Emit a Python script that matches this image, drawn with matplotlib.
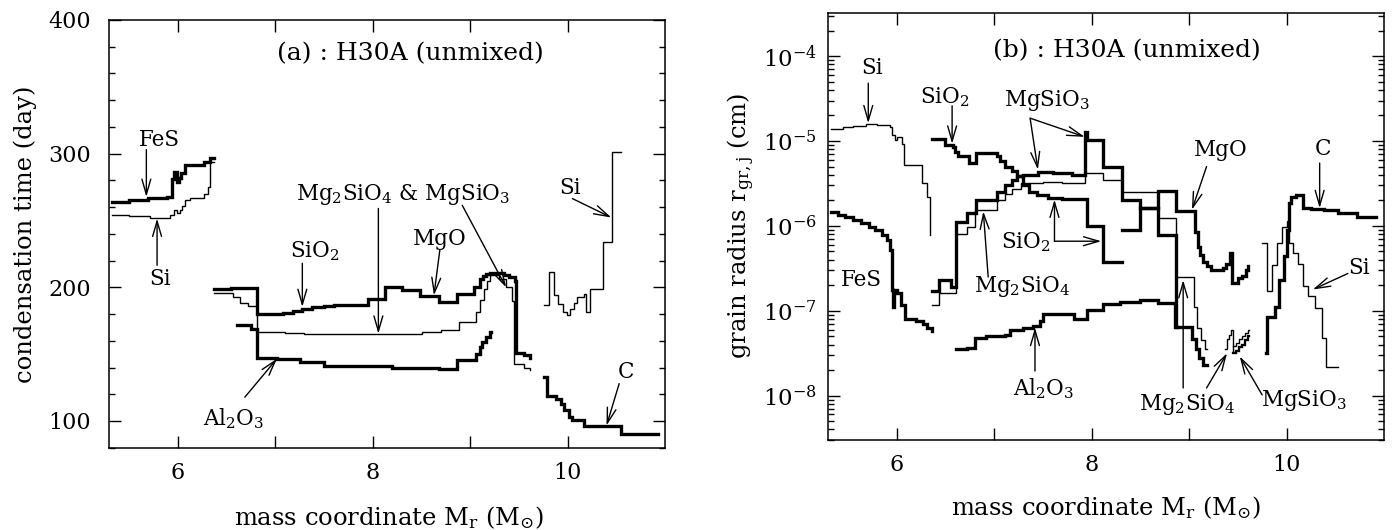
import matplotlib
matplotlib.use("Agg")
import matplotlib.pyplot as plt
from matplotlib.ticker import MultipleLocator, FixedLocator, LogLocator, NullFormatter

plt.rcParams['font.family'] = ['DejaVu Serif']
plt.rcParams['mathtext.fontset'] = 'dejavuserif'

# ---------------- panel (a): condensation time (day) ----------------
fes_a_x = [5.33, 5.50, 5.70, 5.89, 5.94, 5.96, 5.99, 6.02, 6.04, 6.08, 6.27, 6.33, 6.37]
fes_a_y = [264, 265, 266.5, 267.6, 281.4, 286.4, 278.9, 282, 285.2, 291.4, 293.8, 297, 297]

si_a_x = [5.33, 5.50, 5.72, 5.92, 5.96, 5.99, 6.03, 6.05, 6.08, 6.13, 6.27, 6.31, 6.33, 6.37]
si_a_y = [254, 253, 252.2, 254, 257.7, 255.6, 257.7, 261, 265, 267, 270, 275, 294, 294]

sio2_mgo_a_x = [6.37, 6.55, 6.81, 7.08, 7.18, 7.28, 7.38, 7.50, 7.60, 7.95, 8.13, 8.30, 8.49, 8.68,
                8.87, 9.04, 9.10, 9.13, 9.16, 9.20, 9.25, 9.30, 9.35, 9.40, 9.46, 9.47, 9.55, 9.62]
sio2_mgo_a_y = [198.5, 199.5, 179.8, 180.5, 182.3, 184, 185, 186, 186.5, 191.5, 200.2, 197.8, 193.5, 189,
                194.7, 200.2, 206.5, 208.5, 210, 210.7, 210.7, 210.5, 209.5, 207.5, 205, 150.8, 149, 147.3]

silicate_a_x = [6.37, 6.57, 6.64, 6.72, 6.81, 7.10, 7.30, 8.51, 8.70, 8.89, 9.06, 9.10, 9.14, 9.17,
                9.21, 9.30, 9.37, 9.43, 9.45, 9.55, 9.62]
silicate_a_y = [196, 193, 188, 186, 166.5, 165.5, 164.8, 166.5, 167.8, 174, 181.5, 190.3, 199, 205,
                209, 206, 200, 190, 142.8, 140, 137.8]

al2o3_a_x = [6.61, 6.75, 6.81, 7.02, 7.26, 7.50, 7.94, 8.20, 8.68, 8.87, 9.06, 9.10, 9.12, 9.16, 9.20, 9.22]
al2o3_a_y = [171.5, 169, 147, 146.5, 144, 140.8, 141.5, 139.6, 139, 145.3, 150.4, 155, 159, 162.8, 166.5, 166.5]

si2_a_x = [9.76, 9.81, 9.86, 9.90, 9.95, 9.99, 10.03, 10.07, 10.10, 10.17, 10.19, 10.23, 10.36, 10.46, 10.55]
si2_a_y = [186.5, 211.5, 194, 187.6, 181.5, 179, 184, 188, 192.7, 195.2, 181.5, 199, 234, 301.3, 301.3]

c_a_x = [9.76, 9.79, 9.88, 9.93, 9.96, 10.02, 10.05, 10.17, 10.55, 10.93]
c_a_y = [132.8, 119, 116.6, 113, 108, 103, 100.4, 96, 90, 90]

# ---------------- panel (b): grain radius (cm) ----------------
si_b_x = [5.33, 5.45, 5.55, 5.69, 5.80, 5.93, 5.95, 5.98, 6.00, 6.06, 6.08, 6.26, 6.31, 6.34, 6.345]
si_b_y = [1.38e-5, 1.45e-5, 1.51e-5, 1.58e-5, 1.55e-5, 1.45e-5, 1.17e-5, 1.02e-5, 1.12e-5, 9.3e-6,
          5.2e-6, 3.2e-6, 2.2e-6, 7.9e-7, 7.9e-7]

fes_b_x = [5.33, 5.40, 5.47, 5.55, 5.64, 5.72, 5.78, 5.85, 5.90, 5.93, 5.95, 5.96, 5.97, 6.00,
           6.05, 6.09, 6.20, 6.27, 6.31, 6.36]
fes_b_y = [1.45e-6, 1.35e-6, 1.29e-6, 1.17e-6, 1.07e-6, 9.8e-7, 8.9e-7, 7.9e-7, 6.9e-7, 5.2e-7,
           1.78e-7, 1.12e-7, 1.78e-7, 1.62e-7, 1.17e-7, 8.1e-8, 7.6e-8, 6.9e-8, 6.3e-8, 5.75e-8]

sio2_b_x = [6.36, 6.50, 6.58, 6.60, 6.63, 6.74, 6.82, 7.03, 7.06, 7.11, 7.18, 7.24, 7.30, 7.36,
            7.44, 7.55, 7.70, 7.95, 8.12, 8.31]
sio2_b_y = [1.05e-5, 9.1e-6, 8.5e-6, 7.4e-6, 6.6e-6, 5.5e-6, 7.2e-6, 6.6e-6, 5.75e-6, 5.0e-6,
            4.4e-6, 3.9e-6, 3.0e-6, 2.5e-6, 2.3e-6, 2.15e-6, 2.1e-6, 1.0e-6, 3.8e-7, 3.8e-7]

mgsio3_b_x = [6.36, 6.44, 6.56, 6.61, 6.72, 6.82, 7.03, 7.11, 7.18, 7.24, 7.30, 7.45, 7.60, 7.80,
              7.93, 7.95, 8.12, 8.31, 8.50, 8.68, 8.87, 8.875]
mgsio3_b_y = [1.7e-7, 2.3e-7, 1.9e-7, 1.12e-6, 1.41e-6, 2.04e-6, 2.5e-6, 3.0e-6, 3.5e-6, 3.9e-6,
              4.0e-6, 4.3e-6, 4.2e-6, 4.0e-6, 1.29e-5, 1.02e-5, 5.0e-6, 2.04e-6, 1.62e-6, 7.8e-7,
              6.5e-8, 6.5e-8]

mg2sio4_b_x = [6.36, 6.44, 6.61, 6.72, 6.80, 7.03, 7.11, 7.18, 7.28, 7.50, 7.70, 7.93, 8.12, 8.31,
               8.68, 8.87, 9.05, 9.08, 9.12, 9.16, 9.18]
mg2sio4_b_y = [1.17e-7, 1.62e-7, 8.1e-7, 9.8e-7, 1.55e-6, 2.04e-6, 2.4e-6, 2.75e-6, 3.16e-6,
               3.3e-6, 3.16e-6, 4.2e-6, 3.5e-6, 2.5e-6, 1.23e-6, 2.5e-7, 1.12e-7, 6.3e-8, 4.5e-8,
               3.5e-8, 3.5e-8]

al2o3_b_x = [6.61, 6.72, 6.80, 6.92, 7.11, 7.16, 7.30, 7.40, 7.47, 7.50, 7.75, 7.82, 7.95, 8.12,
             8.29, 8.50, 8.68, 8.86, 9.03, 9.07, 9.10, 9.14, 9.18]
al2o3_b_y = [3.5e-8, 3.6e-8, 4.8e-8, 5.0e-8, 5.25e-8, 5.9e-8, 6.2e-8, 6.6e-8, 7.6e-8, 9.1e-8,
             9.1e-8, 8.1e-8, 1.02e-7, 1.2e-7, 1.26e-7, 1.35e-7, 1.23e-7, 6.5e-8, 4.6e-8, 3.5e-8,
             2.8e-8, 2.3e-8, 2.3e-8]

mgo_b_x = [8.31, 8.50, 8.68, 8.87, 9.06, 9.09, 9.11, 9.14, 9.18, 9.23, 9.35, 9.38, 9.42, 9.44,
           9.50, 9.54, 9.58, 9.61]
mgo_b_y = [8.9e-7, 1.62e-6, 2.6e-6, 1.51e-6, 8.5e-7, 5.6e-7, 4.6e-7, 3.8e-7, 3.4e-7, 3.0e-7,
           3.16e-7, 3.6e-7, 4.8e-7, 2.15e-7, 2.4e-7, 2.6e-7, 3.0e-7, 3.4e-7]

mg2sio4_b2_x = [9.37, 9.39, 9.41, 9.43, 9.45]
mg2sio4_b2_y = [3.5e-8, 4.7e-8, 5.2e-8, 6.0e-8, 3.4e-8]

mgsio3_b2_x = [9.45, 9.48, 9.51, 9.54, 9.57, 9.60, 9.62]
mgsio3_b2_y = [3.2e-8, 3.4e-8, 3.7e-8, 4.0e-8, 4.5e-8, 5.0e-8, 5.0e-8]
mgsio3_b3_y = [3.8e-8, 4.2e-8, 4.7e-8, 5.0e-8, 5.5e-8, 6.0e-8, 6.0e-8]

c_b_x = [9.79, 9.80, 9.88, 9.92, 9.97, 10.01, 10.03, 10.05, 10.10, 10.17, 10.25, 10.38, 10.53,
         10.72, 10.92]
c_b_y = [3.16e-8, 8.5e-8, 1.12e-7, 2.3e-7, 4.4e-7, 8.9e-7, 1.86e-6, 2.2e-6, 2.3e-6, 1.62e-6,
         1.58e-6, 1.55e-6, 1.41e-6, 1.26e-6, 1.26e-6]

si2_b_x = [9.75, 9.80, 9.85, 9.90, 9.95, 10.00, 10.03, 10.07, 10.12, 10.17, 10.22, 10.29, 10.36,
           10.41, 10.53]
si2_b_y = [6.3e-7, 1.7e-7, 3.5e-7, 6.3e-7, 9.8e-7, 1.15e-6, 6.3e-7, 4.8e-7, 3.6e-7, 1.95e-7,
           1.48e-7, 1.07e-7, 4.8e-8, 2.2e-8, 2.2e-8]

LW_THICK = 2.4
LW_THIN = 1.0
FS = 15.5
FS_TITLE = 18
FS_AXLABEL = 17.5
FS_TICK = 16

fig = plt.figure(figsize=(13.93, 5.30), dpi=100)
W, H = 1393.0, 530.0
ax1 = fig.add_axes([109.3 / W, 1 - 447.7 / H, (665 - 109.3) / W, (447.7 - 20) / H])
ax2 = fig.add_axes([828.3 / W, 1 - 440 / H, (1384 - 828.3) / W, (440 - 13.3) / H])


def step(ax, x, y, lw):
    ax.plot(x, y, drawstyle='steps-post', color='k', lw=lw, solid_joinstyle='miter')


def arrow(ax, tail, tip):
    ax.annotate('', xy=tip, xytext=tail,
                arrowprops=dict(arrowstyle='->,head_length=1.1,head_width=0.32',
                                lw=1.0, color='k', shrinkA=0, shrinkB=0))


def label(ax, x, y, s):
    ax.text(x, y, s, ha='center', va='center', fontsize=FS)


# ----- panel (a)
step(ax1, fes_a_x, fes_a_y, LW_THICK)
step(ax1, si_a_x, si_a_y, LW_THIN)
step(ax1, sio2_mgo_a_x, sio2_mgo_a_y, LW_THICK)
step(ax1, silicate_a_x, silicate_a_y, LW_THIN)
step(ax1, al2o3_a_x, al2o3_a_y, LW_THICK)
step(ax1, si2_a_x, si2_a_y, LW_THIN)
step(ax1, c_a_x, c_a_y, LW_THICK)

ax1.set_xlim(5.3, 11.0)
ax1.set_ylim(80, 400)
ax1.yaxis.set_major_locator(FixedLocator([100, 200, 300, 400]))
ax1.yaxis.set_minor_locator(MultipleLocator(20))
ax1.xaxis.set_major_locator(FixedLocator([6, 7, 8, 9, 10]))
ax1.set_xticklabels(['6', '', '8', '', '10'])

ax1.text(8.39, 375, '(a) : H30A (unmixed)', ha='center', va='center', fontsize=FS_TITLE)
label(ax1, 5.81, 310, 'FeS')
arrow(ax1, (5.68, 303), (5.68, 267.6))
label(ax1, 5.82, 206.5, 'Si')
arrow(ax1, (5.79, 216.5), (5.79, 251.4))
label(ax1, 7.41, 227, 'SiO$_2$')
arrow(ax1, (7.28, 218), (7.28, 185.3))
label(ax1, 8.31, 269.5, 'Mg$_2$SiO$_4$ & MgSiO$_3$')
arrow(ax1, (8.06, 259), (8.06, 165.3))
arrow(ax1, (8.92, 261.4), (9.37, 200))
label(ax1, 8.69, 236.5, 'MgO')
arrow(ax1, (8.69, 227.7), (8.63, 194))
label(ax1, 10.03, 274, 'Si')
arrow(ax1, (10.05, 266.4), (10.45, 252.2))
label(ax1, 10.6, 136.6, 'C')
arrow(ax1, (10.53, 127.9), (10.4, 96.6))
label(ax1, 6.57, 102, 'Al$_2$O$_3$')
arrow(ax1, (6.69, 117.8), (7.02, 146.6))

# ----- panel (b)
step(ax2, si_b_x, si_b_y, LW_THIN)
step(ax2, fes_b_x, fes_b_y, LW_THICK)
step(ax2, sio2_b_x, sio2_b_y, LW_THICK)
step(ax2, mgsio3_b_x, mgsio3_b_y, LW_THICK)
step(ax2, mg2sio4_b_x, mg2sio4_b_y, LW_THIN)
step(ax2, al2o3_b_x, al2o3_b_y, LW_THICK)
step(ax2, mgo_b_x, mgo_b_y, LW_THICK)
step(ax2, mg2sio4_b2_x, mg2sio4_b2_y, LW_THIN)
step(ax2, mgsio3_b2_x, mgsio3_b2_y, LW_THICK * 0.7)
step(ax2, mgsio3_b2_x, mgsio3_b3_y, LW_THIN)
step(ax2, c_b_x, c_b_y, LW_THICK)
step(ax2, si2_b_x, si2_b_y, LW_THIN)

ax2.set_yscale('log')
ax2.set_xlim(5.3, 11.0)
ax2.set_ylim(3.0e-9, 3.2e-4)
ax2.yaxis.set_major_locator(LogLocator(base=10, numticks=20))
ax2.yaxis.set_minor_locator(LogLocator(base=10, subs=range(2, 10), numticks=20))
ax2.yaxis.set_minor_formatter(NullFormatter())
ax2.xaxis.set_major_locator(FixedLocator([6, 7, 8, 9, 10]))
ax2.set_xticklabels(['6', '', '8', '', '10'])

ax2.text(8.36, 1.17e-4, '(b) : H30A (unmixed)', ha='center', va='center', fontsize=FS_TITLE)
label(ax2, 5.75, 7.2e-5, 'Si')
arrow(ax2, (5.71, 4.8e-5), (5.71, 1.62e-5))
label(ax2, 6.49, 3.3e-5, 'SiO$_2$')
arrow(ax2, (6.57, 2.6e-5), (6.57, 9.3e-6))
label(ax2, 7.54, 3.0e-5, 'MgSiO$_3$')
arrow(ax2, (7.37, 1.86e-5), (7.45, 4.6e-6))
arrow(ax2, (7.37, 1.86e-5), (7.93, 1.12e-5))
label(ax2, 9.33, 7.8e-6, 'MgO')
arrow(ax2, (9.18, 5.0e-6), (9.03, 1.55e-6))
label(ax2, 10.37, 8.1e-6, 'C')
arrow(ax2, (10.34, 5.5e-6), (10.34, 1.62e-6))
label(ax2, 10.74, 3.16e-7, 'Si')
arrow(ax2, (10.63, 2.75e-7), (10.27, 1.78e-7))
label(ax2, 5.64, 2.3e-7, 'FeS')
label(ax2, 7.33, 6.4e-7, 'SiO$_2$')
arrow(ax2, (7.62, 6.6e-7), (7.62, 2.04e-6))
arrow(ax2, (7.62, 6.6e-7), (8.1, 6.6e-7))
label(ax2, 7.29, 1.95e-7, 'Mg$_2$SiO$_4$')
arrow(ax2, (6.94, 2.5e-7), (6.89, 1.48e-6))
label(ax2, 7.51, 1.2e-8, 'Al$_2$O$_3$')
arrow(ax2, (7.42, 1.95e-8), (7.42, 6.3e-8))
label(ax2, 8.98, 7.9e-9, 'Mg$_2$SiO$_4$')
arrow(ax2, (8.94, 1.23e-8), (8.94, 2.3e-7))
arrow(ax2, (9.18, 1.23e-8), (9.39, 3.16e-8))
label(ax2, 10.18, 8.7e-9, 'MgSiO$_3$')
arrow(ax2, (9.75, 1.02e-8), (9.52, 2.9e-8))

for ax in (ax1, ax2):
    ax.tick_params(which='both', direction='in', top=True, right=True, labelsize=FS_TICK)
    ax.tick_params(which='major', length=8.5, width=1.0)
    ax.tick_params(which='minor', length=4.3, width=1.0)
    for sp in ax.spines.values():
        sp.set_linewidth(1.1)
ax1.tick_params(axis='y', which='major', pad=13)
ax1.tick_params(axis='x', which='major', pad=10)
ax2.tick_params(axis='y', which='major', pad=8, labelsize=16.5)
ax2.tick_params(axis='x', which='major', pad=10)

fig.text(25 / W, 1 - 234 / H, 'condensation time (day)', rotation=90, ha='center', va='center',
         fontsize=FS_AXLABEL)
fig.text(389 / W, 1 - 518 / H, r'mass coordinate M$_{\mathrm{r}}$ (M$_{\odot}$)', ha='center',
         va='center', fontsize=FS_AXLABEL)
fig.text(741.7 / W, 1 - 226 / H, r'grain radius r$_{\mathrm{gr,j}}$ (cm)', rotation=90, ha='center',
         va='center', fontsize=FS_AXLABEL)
fig.text(1106 / W, 1 - 508 / H, r'mass coordinate M$_{\mathrm{r}}$ (M$_{\odot}$)', ha='center',
         va='center', fontsize=FS_AXLABEL)

fig.savefig('out.png', dpi=100)
